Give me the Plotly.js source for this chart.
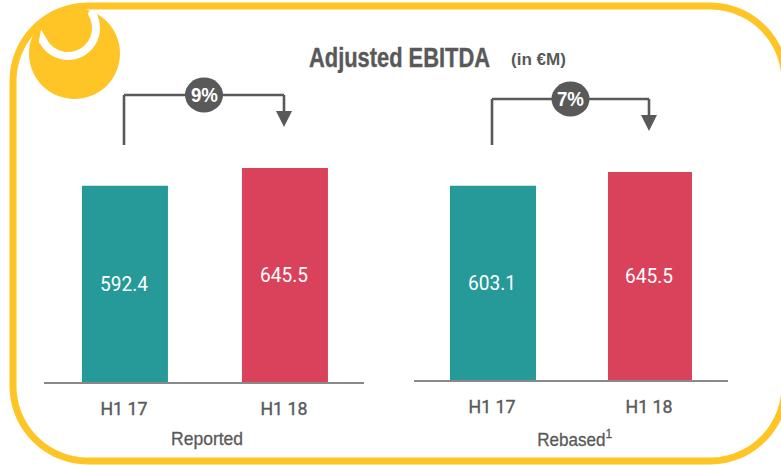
<!DOCTYPE html>
<html><head><meta charset="utf-8">
<script src="https://cdn.plot.ly/plotly-3.0.1.min.js"></script>
<style>html,body{margin:0;padding:0;background:#fff;overflow:hidden}</style>
</head><body><div id="chart" style="width:781px;height:466px"></div>
<script>
const categories = ["H1 17", "H1 18"];
const reportedValues = [592.4, 645.5];
const rebasedValues = [603.1, 645.5];
const barColors = ["#269A98", "#DA415B"];
const reportedGrowth = "9%";
const rebasedGrowth = "7%";
const W = 781, H = 466;
const grey = "#595959", yellow = "#FFC425";
const sans = "'Liberation Sans',sans-serif";
const px = v => v / W, py = v => 1 - v / H;

function bar(values, xa, ya, widths) {
  return {type: "bar", x: categories, y: values, xaxis: xa, yaxis: ya, width: widths,
    marker: {color: barColors, line: {width: 0}},
    text: values.map(v => v.toFixed(1)), textposition: "inside", insidetextanchor: "middle",
    textangle: 0, constraintext: "none",
    textfont: {family: "Roboto,sans-serif", size: 20, color: "#fff"},
    hoverinfo: "skip", showlegend: false, cliponaxis: false};
}
function xAxis(l, r, shift) {
  return {domain: [px(l), px(r)], type: "category", range: [-0.5 - shift, 1.5 - shift], showline: true, linecolor: "#898989", linewidth: 2,
    showgrid: false, zeroline: false, ticks: "outside", ticklen: 8, tickcolor: "rgba(0,0,0,0)", tickwidth: 0,
    tickfont: {family: "Roboto,sans-serif", size: 19, color: grey, weight: 400}, fixedrange: true};
}
function yAxis(top, base, rng, anchor) {
  return {domain: [py(base), py(top)], range: [0, rng], visible: false, fixedrange: true, anchor};
}
function line(x0, y0, x1, y1) {
  return {type: "line", xref: "paper", yref: "paper", x0: px(x0), x1: px(x1), y0: py(y0), y1: py(y1),
    line: {color: grey, width: 2.6}};
}
function pathShape(d, fill, lineSpec) {
  return {type: "path", xref: "paper", yref: "paper", path: d, fillcolor: fill, line: lineSpec, layer: "above"};
}
function P(x, y) { return px(x) + "," + py(y); }
function txt(x, y, text, size, weight, color, boxWidth) {
  const a = {xref: "paper", yref: "paper", x: px(x), y: py(y), text, showarrow: false,
    font: {family: sans, size, color: color || grey, weight: weight || 400}, xanchor: "center", yanchor: "middle"};
  if (boxWidth) a.width = boxWidth;
  return a;
}
function bracket(xa, xb, yTop, yStart, yArrow, xMid, label) {
  const shapes = [line(xa, yStart, xa, yTop), line(xa, yTop, xb, yTop), line(xb, yTop, xb, yArrow),
    pathShape("M" + P(xb - 8, yArrow) + " L" + P(xb + 8, yArrow) + " L" + P(xb, yArrow + 16) + " Z", grey, {width: 0}),
    {type: "circle", xref: "paper", yref: "paper", x0: px(xMid - 19), x1: px(xMid + 19), y0: py(yTop + 17.5), y1: py(yTop - 17.5),
     fillcolor: grey, line: {width: 0}}];
  return {shapes, ann: txt(xMid, yTop, label, 20, 700, "#fff")};
}
const b1 = bracket(124, 284, 95, 145, 111, 204, reportedGrowth);
const b2 = bracket(492, 649, 99, 145, 115, 570.5, rebasedGrowth);

function arcPts(cx, cy, r, a0, a1) {
  let s = "";
  for (let i = 0; i <= 24; i++) {
    const a = (a0 + (a1 - a0) * i / 24) * Math.PI / 180;
    s += " L" + P(cx + r * Math.cos(a), cy + r * Math.sin(a));
  }
  return s;
}
const frame = "M" + P(13, 81) + arcPts(88, 81, 75, 180, 270) + " L" + P(710, 6) +
  arcPts(710, 81, 75, 270, 360) + " L" + P(785, 386) + arcPts(710, 386, 75, 0, 90) + " L" + P(88, 461) +
  arcPts(88, 386, 75, 90, 180) + " Z";
const logoArc = "M" + P(43, 41) + arcPts(68, 28, 28, 153, -30);

const layout = {
  width: W, height: H, margin: {l: 0, r: 0, t: 0, b: 0}, paper_bgcolor: "#fff", plot_bgcolor: "rgba(0,0,0,0)",
  bargap: 0.4625,
  xaxis: Object.assign(xAxis(44, 364, 0.006), {anchor: "y"}),
  yaxis: yAxis(100, 382, 851, "x"),
  xaxis2: Object.assign(xAxis(414, 728, 0.003), {anchor: "y2"}),
  yaxis2: yAxis(100, 380, 869, "x2"),
  shapes: [
    pathShape(frame, "rgba(0,0,0,0)", {color: yellow, width: 7}),
    {type: "circle", xref: "paper", yref: "paper", x0: px(29), x1: px(120), y0: py(99), y1: py(8), fillcolor: yellow, line: {width: 0}},
    pathShape(logoArc, "rgba(0,0,0,0)", {color: "#fff", width: 8}),
    ...b1.shapes, ...b2.shapes
  ],
  annotations: [
    txt(399.5, 57, "Adjusted EBITDA", 28, 700, grey, 181),
    txt(538.5, 59, "(in €M)", 17, 700, grey, 55),
    b1.ann, b2.ann,
    txt(207, 438, "Reported", 19),
    txt(574.5, 438, "Rebased<sup>1</sup>", 19)
  ]
};
// Narrow the real text to the widths seen in the reference (no condensed face is installed)
const textWidths = {"Adjusted EBITDA": 181, "(in €M)": 55, "9%": 27, "7%": 27, "Reported": 72, "H1 17": 47, "H1 18": 47,
  "592.4": 48, "603.1": 48, "645.5": 48, "Rebased1": 75};
const nudged = new Set(["H1 17", "H1 18", "592.4", "603.1", "645.5"]);
const thickened = {"H1 17": 0.4, "H1 18": 0.4, "Reported": 0.3, "Rebased1": 0.3, "Adjusted EBITDA": 0.4};
Plotly.newPlot("chart", [bar(reportedValues, "x", "y", [0.5375, 0.5375]), bar(rebasedValues, "x2", "y2", [0.548, 0.535])], layout, {displayModeBar: false, staticPlot: true}).then(gd => {
  gd.querySelectorAll("svg text").forEach(t => {
    const s = t.textContent.replace(/\u200b/g, "");
    const w = textWidths[s];
    if (w) { t.setAttribute("textLength", w); t.setAttribute("lengthAdjust", "spacingAndGlyphs"); }
    if (nudged.has(s)) t.setAttribute("dx", -1);
    if (thickened[s]) { t.style.stroke = grey; t.style.strokeWidth = thickened[s] + "px"; }
  });
  gd.querySelectorAll(".shapelayer path").forEach(p => { if (p.style.stroke === "rgb(255, 255, 255)") p.style.strokeLinecap = "round"; });
});
</script></body></html>
